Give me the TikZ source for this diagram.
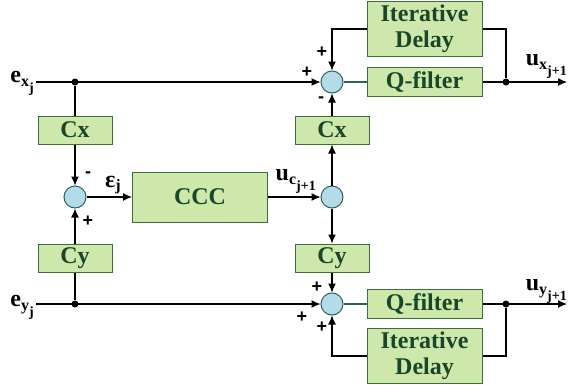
\documentclass[tikz,border=0pt]{standalone}
\usepackage{fontspec}
\setmainfont{Liberation Serif}
\newfontfamily\signfont{Liberation Sans}
\usepackage{xcolor}
\usetikzlibrary{positioning,arrows.meta}
\definecolor{blockfill}{RGB}{205,232,170}
\definecolor{blockline}{RGB}{60,110,60}
\definecolor{blocktext}{RGB}{25,70,40}
\definecolor{sumfill}{RGB}{180,220,232}
\definecolor{sumline}{RGB}{40,100,90}
% symbol with a subscript and a second-level subscript
\newcommand{\sublab}[3]{#1\raisebox{-4pt}{\fontsize{16}{16}\selectfont #2\raisebox{-6pt}{\fontsize{14}{14}\selectfont #3}}}

\begin{document}
\begin{tikzpicture}[x=1pt, y=-1pt,
  node distance=10pt,
  blk/.style={draw=blockline, fill=blockfill, line width=1pt, text=blocktext,
              font=\fontsize{24}{26}\selectfont\bfseries, inner sep=0pt, align=center},
  cbox/.style={blk, minimum width=74pt, minimum height=28pt},
  qbox/.style={blk, minimum width=115pt, minimum height=29pt},
  dbox/.style={blk, minimum width=115pt, minimum height=55pt},
  sumnode/.style={circle, draw=sumline, fill=sumfill, line width=1pt,
                  minimum size=22pt, inner sep=0pt},
  jdot/.style={circle, fill=black, minimum size=7pt, inner sep=0pt},
  sig/.style={font=\signfont\fontsize{18}{18}\selectfont\bfseries, inner sep=0pt},
  lab/.style={font=\fontsize{24}{24}\selectfont\bfseries, inner sep=0pt, anchor=base east},
  ln/.style={line width=1.2pt},
  fl/.style={ln, -{Latex[length=9pt,width=8pt]}}]
\useasboundingbox (0,0) rectangle (568,384);
% left column
\node[jdot] (d1) at (75,82) {};
\node[cbox] (cx1) at (75,130) {Cx};
\node[sumnode] (sl) at (75,197) {};
\node[cbox] (cy1) at (75,258) {Cy};
\node[jdot] (d2) at (75,304) {};
\node[blk, minimum width=135pt, minimum height=50pt] (ccc) at (200,197) {CCC};
% right column
\node[sumnode] (sx) at (332,82) {};
\node[cbox] (cx2) at (332,130) {Cx};
\node[sumnode] (sr) at (332,197) {};
\node[cbox] (cy2) at (332,258) {Cy};
\node[sumnode] (sy) at (332,304) {};
\node[qbox] (qx) at (424.5,82) {Q-filter};
\node[dbox, above=of qx] (dx) {Iterative\\Delay};
\node[qbox] (qy) at (424.5,304) {Q-filter};
\node[dbox, below=9pt of qy] (dy) {Iterative\\Delay};
\node[jdot] (ox) at (506,82) {};
\node[jdot] (oy) at (506,304) {};
\coordinate (exin) at (36,82);
\coordinate (eyin) at (36,304);
\coordinate (uxout) at (567,82);
\coordinate (uyout) at (567,304);
% labels
\node[lab] (ex) at (34,82) {\sublab{e}{x}{j}};
\node[lab] (ey) at (34,306) {\sublab{e}{y}{j}};
\node[lab] (eps) at (121,187) {ε\raisebox{-3pt}{\fontsize{16}{16}\selectfont j}};
\node[lab] (uc) at (316,180) {\sublab{u}{c}{j+1}};
\node[lab] (ux) at (567,65) {\sublab{u}{x}{j+1}};
\node[lab] (uy) at (567,290) {\sublab{u}{y}{j+1}};
% signs
\node[sig] (pa) at (322,52) {+};
\node[sig] (pb) at (307,72) {+};
\node[sig] (ma) at (321,100) {-};
\node[sig] (mb) at (88,175) {-};
\node[sig] (pc) at (88,221) {+};
\node[sig] (pd) at (317,287) {+};
\node[sig] (pe) at (302,317) {+};
\node[sig] (pf) at (322,327) {+};
% connectors
\draw[fl] (exin) -- (sx);
\draw[fl] (eyin) -- (sy);
\draw[ln] (d1) -- (cx1);
\draw[ln] (d2) -- (cy1);
\foreach \a/\b in {cx1/sl, cy1/sl, sl/ccc, ccc/sr, sr/cx2, sr/cy2, cx2/sx, cy2/sy}
  \draw[fl] (\a) -- (\b);
\draw[ln, draw=sumline] (sx) -- (qx);
\draw[ln, draw=sumline] (sy) -- (qy);
\draw[fl] (qx) -- (uxout);
\draw[fl] (qy) -- (uyout);
\draw[ln] (ox) |- (dx.east);
\draw[fl] (dx.west) -| (sx.north);
\draw[ln] (oy) |- (dy.east);
\draw[fl] (dy.west) -| (sy.south);
\end{tikzpicture}
\end{document}
